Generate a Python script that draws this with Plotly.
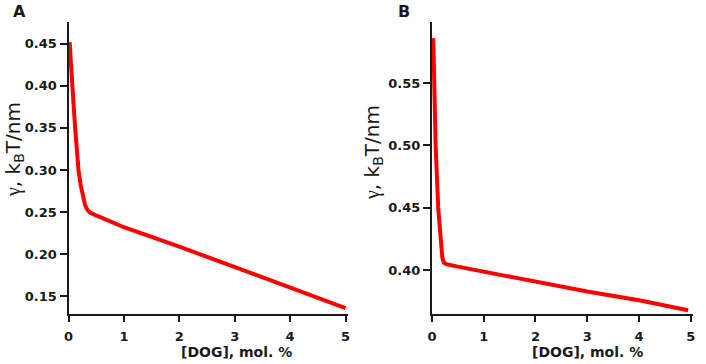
import plotly.graph_objects as go

# Panel A data
a_x = [0.02, 0.04, 0.07, 0.12, 0.18, 0.22, 0.26, 0.30, 0.35, 0.40, 0.50, 1, 2, 3, 4, 5]
a_y = [0.452, 0.425, 0.400, 0.350, 0.300, 0.282, 0.268, 0.258, 0.252, 0.249, 0.246, 0.232, 0.209, 0.185, 0.161, 0.136]

# Panel B data
b_x = [0.025, 0.04, 0.07, 0.12, 0.17, 0.20, 0.23, 0.28, 0.5, 1, 2, 3, 4, 4.95]
b_y = [0.586, 0.55, 0.50, 0.45, 0.419, 0.410, 0.406, 0.405, 0.403, 0.399, 0.391, 0.383, 0.376, 0.368]

x_ticks = [0, 1, 2, 3, 4, 5]
a_yticks = [0.15, 0.20, 0.25, 0.30, 0.35, 0.40, 0.45]
b_yticks = [0.40, 0.45, 0.50, 0.55]

x_title = "[DOG], mol. %"
y_title = "<span style='font-family:Liberation Serif'>γ</span>, k<sub>B</sub>T/nm"
panel_labels = ["A", "B"]

W, H = 706, 364
RED = "#ff0000"
INK = "#1a1a1a"
TICKFONT = dict(family="DejaVu Sans", size=13, color=INK, weight="bold")


def px(x):
    return x / W


def py(y):
    return 1 - y / H


fig = go.Figure()
fig.add_trace(go.Scatter(x=a_x, y=a_y, mode="lines", line=dict(color=RED, width=4),
                         xaxis="x", yaxis="y", showlegend=False))
fig.add_trace(go.Scatter(x=b_x, y=b_y, mode="lines", line=dict(color=RED, width=4),
                         xaxis="x2", yaxis="y2", showlegend=False))


def xax(domain, anchor):
    return dict(domain=domain, anchor=anchor, range=[0, 5.05], tickvals=x_ticks,
                showline=True, linecolor=INK, linewidth=2, ticks="outside",
                ticklen=6, tickwidth=2, tickcolor=INK, showgrid=False, zeroline=False,
                tickfont=TICKFONT, automargin=False, ticklabelstandoff=3)


def yax(domain, anchor, rng, tv):
    return dict(domain=domain, anchor=anchor, range=rng, tickvals=tv,
                tickformat=".2f", showline=True, linecolor=INK, linewidth=2,
                ticks="outside", ticklen=7, tickwidth=2, tickcolor=INK,
                showgrid=False, zeroline=False, tickfont=TICKFONT, automargin=False)


ydom = [py(314.3), py(22)]
fig.update_layout(
    width=W, height=H,
    margin=dict(l=0, r=0, t=0, b=0),
    paper_bgcolor="white", plot_bgcolor="white",
    xaxis=xax([px(68.5), px(348.3)], "y"),
    yaxis=yax(ydom, "x", [0.1286, 0.4758], a_yticks),
    xaxis2=xax([px(432), px(693.3)], "y2"),
    yaxis2=yax(ydom, "x2", [0.3648, 0.5989], b_yticks),
)

ann = []
# x titles
for cx in [236, 587.5]:
    ann.append(dict(text=x_title, x=px(cx), y=py(352), xref="paper", yref="paper",
                    xanchor="center", yanchor="middle", showarrow=False,
                    font=dict(family="DejaVu Sans", size=14, color=INK, weight="bold")))
# y titles
for cx, cy in [(14, 150), (373, 152)]:
    ann.append(dict(text=y_title, x=px(cx), y=py(cy), xref="paper", yref="paper",
                    xanchor="center", yanchor="middle", showarrow=False, textangle=-90,
                    font=dict(family="DejaVu Sans", size=20, color=INK)))
# panel labels
for lab, cx, cy in zip(panel_labels, [19, 404], [12, 11]):
    ann.append(dict(text=lab, x=px(cx), y=py(cy), xref="paper", yref="paper",
                    xanchor="center", yanchor="middle", showarrow=False,
                    font=dict(family="DejaVu Sans", size=16, color=INK, weight="bold")))
fig.update_layout(annotations=ann)

fig.write_html("out.html", config={"displayModeBar": False},
               post_script="document.body.style.margin='0px';")
